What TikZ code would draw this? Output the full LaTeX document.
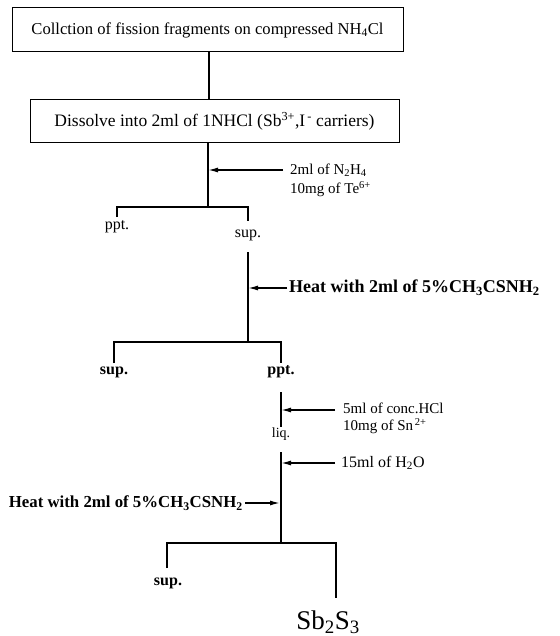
\documentclass[tikz,border=0pt]{standalone}
\usepackage{fontspec}
\setmainfont{Liberation Serif}
\usetikzlibrary{arrows.meta}
\newcommand{\fsz}[1]{\fontsize{#1}{#1}\selectfont}
\begin{document}
\begin{tikzpicture}[x=1pt,y=-1pt,
  boxnode/.style={draw,line width=1pt,inner sep=0pt},
  lbl/.style={inner sep=0pt,font=\fsz{15}},
  blbl/.style={inner sep=0pt,font=\fsz{16}\bfseries},
  flow/.style={line width=1.4pt},
  feed/.style={line width=1.4pt,-{Latex[length=10pt,width=5pt]}}]
\useasboundingbox (0,0) rectangle (559,636);
% boxes
\node[boxnode,minimum width=391pt,minimum height=44pt,font=\fsz{16.6}] (box1) at (207.5,30)
  {Collction of fission fragments on compressed NH\textsubscript{4}Cl};
\node[boxnode,minimum width=369pt,minimum height=43pt,font=\fsz{17.5}] (box2) at (214.5,121.5)
  {Dissolve into 2ml of 1NHCl (Sb\textsuperscript{3+},I\textsuperscript{\,-} carriers)};
\draw[flow] (box1.south -| 209,0) -- (box2.north -| 209,0);
% stage 1
\coordinate (j1) at (208,207);
\coordinate (t1) at (208,170);
\draw[flow] (box2.south -| j1) -- (j1);
\node[lbl,anchor=west] (r1a) at (290,170) {2ml of N\textsubscript{2}H\textsubscript{4}};
\node[lbl,anchor=west] (r1b) at (290,189) {10mg of Te\textsuperscript{6+}};
\draw[feed] (r1a.west) ++(-7,0) coordinate (s1) (s1) -- (t1);
\node[lbl,font=\fsz{16}] (ppt1) at (117,227) {ppt.};
\node[lbl,font=\fsz{16}] (sup1) at (248,235) {sup.};
\draw[flow] (117,217) -- (117,207) -- (248,207) -- (248,221);
% stage 2
\coordinate (j2) at (248,342);
\coordinate (t2) at (248,288);
\draw[flow] (248,252) -- (j2);
\node[blbl,anchor=west,font=\fsz{18}\bfseries] (r2) at (289,288) {Heat with 2ml of 5\%CH\textsubscript{3}CSNH\textsubscript{2}};
\draw[feed] (r2.west) ++(-2,0) coordinate (s2) (s2) -- (t2);
\node[blbl] (sup2) at (114,372) {sup.};
\node[blbl] (ppt2) at (281,372) {ppt.};
\draw[flow] (114,363) -- (114,342) -- (281,342) -- (281,363);
% stage 3
\coordinate (t3) at (281,410);
\node[lbl,font=\fsz{14}] (liq) at (281,434) {liq.};
\draw[flow] (281,392) -- (281,427);
\node[lbl,anchor=west] (r3a) at (343,408) {5ml of conc.HCl};
\node[lbl,anchor=west] (r3b) at (343,426) {10mg of Sn\textsuperscript{\,2+}};
\draw[feed] (335,410) -- (t3);
% stage 4
\coordinate (j4) at (281,543);
\coordinate (t4) at (281,463);
\coordinate (t5) at (280,503);
\draw[flow] (281,452) -- (j4);
\node[lbl,anchor=west,font=\fsz{16}] (r4) at (341,463) {15ml of H\textsubscript{2}O};
\draw[feed] (r4.west) ++(-6,0) coordinate (s4) (s4) -- (t4);
\node[blbl,anchor=east,font=\fsz{16.8}\bfseries] (r5) at (243,503) {Heat with 2ml of 5\%CH\textsubscript{3}CSNH\textsubscript{2}};
\draw[feed] (r5.east) ++(2,0) coordinate (s5) (s5) -- (t5);
\node[blbl] (sup3) at (168,583) {sup.};
\node[inner sep=0pt,font=\fsz{27}] (prod) at (328,622) {Sb\textsubscript{2}S\textsubscript{3}};
\draw[flow] (167,568) -- (167,543) -- (336,543) -- (336,598);
\end{tikzpicture}
\end{document}
